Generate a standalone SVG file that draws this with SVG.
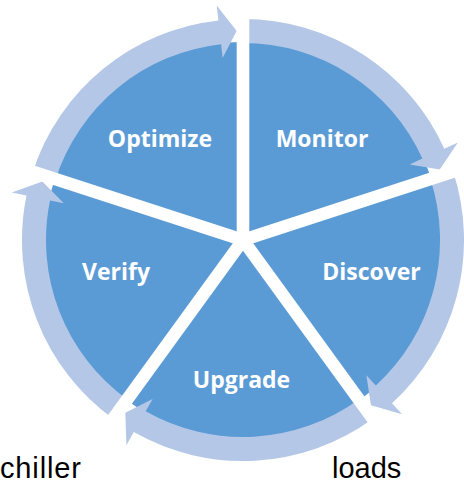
<svg xmlns="http://www.w3.org/2000/svg" width="464" height="484" viewBox="0 0 464 484">
<style>
.wedge{fill:#5B9BD5}
.ring{fill:#B4C7E7}
.lbl{font-family:"Open Sans","Liberation Sans",sans-serif;font-weight:bold;font-size:23px;fill:#FFFFFF;text-anchor:middle}
.cap{font-family:"Liberation Sans",Arial,sans-serif;font-size:29px;fill:#000000}
.gap{stroke:#FFFFFF;stroke-width:12.6;fill:none}
</style>
<rect width="464" height="484" fill="#FFFFFF"/>
<g id="monitor">
<path class="wedge" d="M243 240 L243 42 A198 198 0 0 1 431.3 178.8 Z"/>
<path class="ring" d="M243 19 A221 221 0 0 1 444.3 148.7 L457.9 142.5 L439.7 169.4 L409.7 164.4 L422.4 158.6 A197 197 0 0 0 243 43 Z"/>
<text class="lbl" x="322" y="147">Monitor</text>
</g>
<g id="discover">
<path class="wedge" d="M243 240 L431.3 178.8 A198 198 0 0 1 359.4 400.2 Z"/>
<path class="ring" d="M453.2 171.7 A221 221 0 0 1 392 403.2 L402.1 414.3 L370.9 405.3 L366.4 375.2 L375.8 385.5 A197 197 0 0 0 430.4 179.1 Z"/>
<text class="lbl" x="371.5" y="280">Discover</text>
</g>
<g id="upgrade">
<path class="wedge" d="M243 240 L359.4 400.2 A198 198 0 0 1 126.6 400.2 Z"/>
<path class="ring" d="M372.9 418.8 A221 221 0 0 1 133.8 432.1 L126.4 445.2 L125.3 412.7 L152.6 399.1 L145.7 411.3 A197 197 0 0 0 358.8 399.4 Z"/>
<text class="lbl" x="241.5" y="388">Upgrade</text>
</g>
<g id="verify">
<path class="wedge" d="M243 240 L126.6 400.2 A198 198 0 0 1 54.7 178.8 Z"/>
<path class="ring" d="M113.1 418.8 A221 221 0 0 1 26.5 195.5 L11.8 192.5 L42.4 181.5 L63.8 203.2 L50 200.4 A197 197 0 0 0 127.2 399.4 Z"/>
<text class="lbl" x="116" y="280">Verify</text>
</g>
<g id="optimize">
<path class="wedge" d="M243 240 L54.7 178.8 A198 198 0 0 1 243 42 Z"/>
<path class="ring" d="M32.8 171.7 A221 221 0 0 1 218.4 20.4 L216.7 5.5 L236.7 31.1 L222.6 58.1 L221.1 44.2 A197 197 0 0 0 55.6 179.1 Z"/>
<text class="lbl" x="160" y="147">Optimize</text>
</g>
<g id="connectors">
<line class="gap" x1="243" y1="240" x2="243" y2="-10"/>
<line class="gap" x1="243" y1="240" x2="480.8" y2="162.7"/>
<line class="gap" x1="243" y1="240" x2="389.9" y2="442.3"/>
<line class="gap" x1="243" y1="240" x2="96.1" y2="442.3"/>
<line class="gap" x1="243" y1="240" x2="5.2" y2="162.7"/>
</g>
<g id="captions">
<text class="cap" x="0" y="478" textLength="81">chiller</text>
<text class="cap" x="332" y="477.5">loads</text>
</g>
</svg>
